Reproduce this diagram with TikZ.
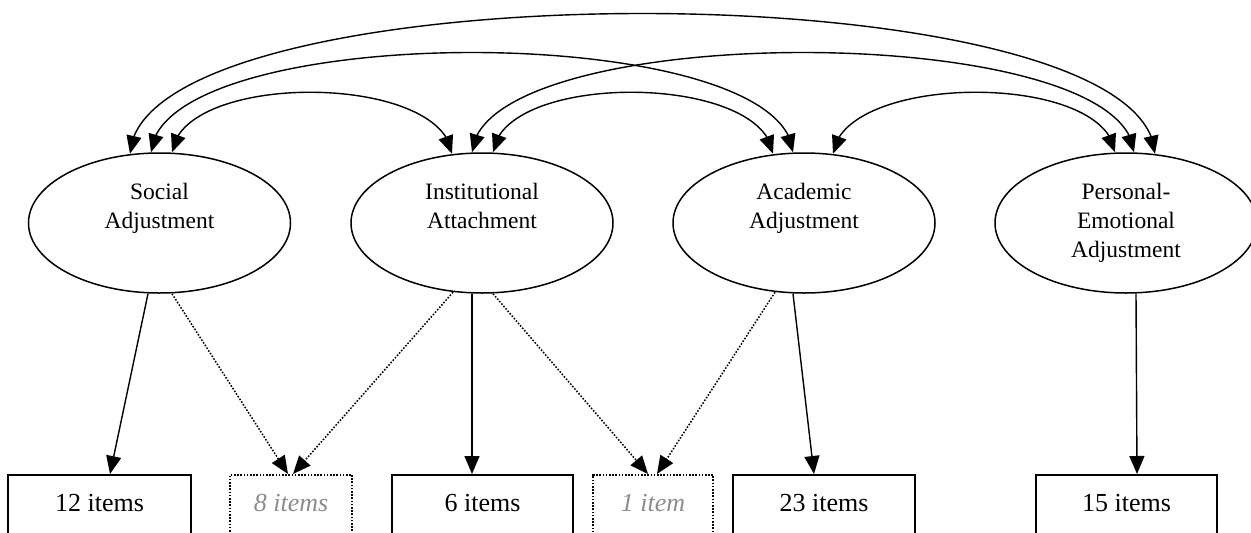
\documentclass[tikz,border=0pt]{standalone}
\usepackage{fontspec}
\setmainfont{Liberation Serif}
\usetikzlibrary{shapes.geometric,arrows.meta,calc,bending}
\definecolor{itemgray}{RGB}{140,140,140}
\begin{document}
\begin{tikzpicture}[x=1pt,y=-1pt,
  latent/.style={ellipse,draw,line width=1.5pt,minimum width=262pt,minimum height=140pt,inner sep=0pt,align=center,font=\fontsize{23.5}{29}\selectfont},
  itembox/.style={rectangle,draw,line width=1.5pt,anchor=north,inner sep=0pt,text height=36.5pt,text depth=45pt,font=\fontsize{26}{30}\selectfont},
  dotbox/.style={itembox,dash pattern=on 1.6pt off 1.6pt,text=itemgray,font=\fontsize{26}{30}\selectfont\itshape},
  cov/.style={line width=1.4pt,{Triangle[length=18pt,width=15pt]}-{Triangle[length=18pt,width=15pt]}},
  load/.style={line width=1.4pt,-{Triangle[length=18pt,width=15pt]}},
  cross/.style={load,line width=1.5pt,dash pattern=on 1.6pt off 1.6pt}]
\useasboundingbox (0,0) rectangle (1251,533);
\clip (0,0) rectangle (1251,533);

% latent factors
\node[latent] (sa) at (159.5,223) {\strut Social\\Adjustment\\\strut};
\node[latent] (ia) at (482,223) {\strut Institutional\\Attachment\\\strut};
\node[latent] (aa) at (804,223) {\strut Academic\\Adjustment\\\strut};
\node[latent] (pe) at (1126,223) {\strut Personal-\\Emotional\\Adjustment\strut};

% item boxes
\node[itembox,minimum width=183pt] (b12) at (99.5,474) {12 items};
\node[dotbox,minimum width=122pt] (b8) at (291,474) {8 items};
\node[itembox,minimum width=181pt] (b6) at (482.5,474) {6 items};
\node[dotbox,minimum width=120pt] (b1) at (653,474) {1 item};
\node[itembox,minimum width=182pt] (b23) at (824,474) {23 items};
\node[itembox,minimum width=181pt] (b15) at (1126.5,474) {15 items};

% covariances
\draw[cov] ($(sa.north)+(-29.5,1.5)$) .. controls +(10,-187) and +(-10,-187) .. ($(pe.north)+(29,1.5)$);
\draw[cov] ($(sa.north)+(-8.5,0)$) .. controls +(10,-133) and +(-10,-133) .. ($(aa.north)+(-11,0)$);
\draw[cov] ($(sa.north)+(12.5,0)$) .. controls +(10,-81) and +(-10,-81) .. ($(ia.north)+(-30,1.5)$);
\draw[cov] ($(ia.north)+(-10,0)$) .. controls +(10,-133) and +(-10,-133) .. ($(pe.north)+(8,0)$);
\draw[cov] ($(ia.north)+(11,0)$) .. controls +(10,-81) and +(-10,-81) .. ($(aa.north)+(-31,1.5)$);
\draw[cov] ($(aa.north)+(29,1.5)$) .. controls +(10,-81) and +(-10,-81) .. ($(pe.north)+(-11,0)$);

% loadings
\draw[load] ($(sa.south)+(-11.5,0)$) -- ($(b12.north)+(10.5,0)$);
\draw[cross] ($(sa.south)+(12.5,0)$) -- ($(b8.north)+(-3,0)$);
\draw[cross] ($(ia.south)+(-29,-1.5)$) -- ($(b8.north)+(2,0)$);
\draw[load] ($(ia.south)+(-10,0)$) -- ($(b6.north)+(-10.5,0)$);
\draw[cross] ($(ia.south)+(11,0)$) -- ($(b1.north)+(-5,0)$);
\draw[cross] ($(aa.south)+(-29,-1.5)$) -- ($(b1.north)+(4,0)$);
\draw[load] ($(aa.south)+(-11,0)$) -- ($(b23.north)+(-10,0)$);
\draw[load] ($(pe.south)+(10,0)$) -- ($(b15.north)+(10.5,0)$);
\end{tikzpicture}
\end{document}
